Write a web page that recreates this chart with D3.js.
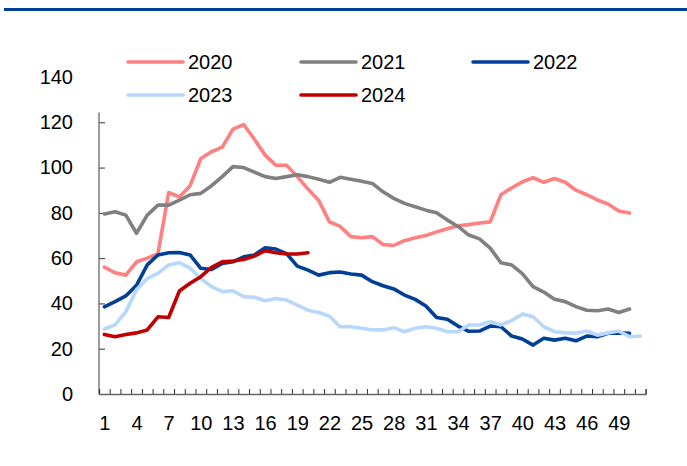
<!DOCTYPE html>
<html>
<head>
<meta charset="utf-8">
<script src="https://cdn.jsdelivr.net/npm/d3@7"></script>
<style>
  body { margin: 0; background: #fff; }
  svg text { font-family: "Liberation Sans", Arial, sans-serif; }
</style>
</head>
<body>
<div id="chart"></div>
<script>
// weekly values, week 1..n
var years = ['2020', '2021', '2022', '2023', '2024'];
var colors = ['#ff8080', '#808080', '#003f98', '#b7d7fd', '#c00000'];

var s2020 = [56, 53.5, 52.5, 58.4, 60, 62, 89, 87, 92, 104, 107, 109, 117, 119, 112.5, 105.5, 101, 101, 96, 90.5,
  85.5, 76, 74, 69.5, 69, 69.5, 66, 65.6, 67.7, 69, 70, 71.6, 73, 74.3, 74.8, 75.5, 76, 88, 91, 93.7,
  95.5, 93.5, 95.2, 93.5, 90, 88, 85.7, 83.9, 80.8, 79.9];
var s2021 = [79.5, 80.5, 79, 71, 79, 83.4, 83.4, 85.6, 88, 88.6, 92, 96, 100.4, 100, 98, 96, 95.2, 96, 96.8, 96,
  94.8, 93.5, 95.7, 94.8, 94, 93, 89.3, 86.4, 84.2, 82.7, 81.2, 80, 76.8, 74, 70.2, 68.5, 64.4, 58, 57, 53.2,
  47.4, 45, 41.8, 40.8, 38.6, 37, 36.8, 37.5, 36, 37.5];
var s2022 = [38.5, 40.8, 43.3, 48, 57, 61.4, 62.4, 62.5, 61.4, 55.5, 55, 57.7, 58.4, 60.6, 61.4, 64.6, 64, 62, 56.5, 54.7,
  52.5, 53.6, 53.9, 53, 52.5, 49.6, 47.8, 46.4, 43.7, 41.8, 38.9, 33.8, 33, 30, 27.7, 27.8, 30, 29.7, 25.6, 24.3,
  21.6, 24.6, 23.8, 24.6, 23.5, 25.6, 25.3, 26.8, 27, 26.8];
var s2023 = [28.7, 30.5, 36.3, 46, 51, 53.3, 57, 58, 55.6, 51, 47.4, 45.2, 45.6, 43, 42.7, 41.2, 42.2, 41.5, 39.3, 37,
  36, 34.4, 29.7, 29.7, 29, 28.3, 28.3, 29.3, 27.5, 29, 29.7, 29, 27.5, 27.5, 30.5, 30.5, 31.9, 30.5, 32.4, 35.3,
  34.1, 29.7, 27.5, 27, 26.8, 27.8, 26, 27, 27.8, 25.3, 25.6];
var s2024 = [26.3, 25.3, 26.3, 27, 28.3, 34.1, 33.8, 45.5, 48.9, 51.8, 55.9, 58.4, 58.7, 59.4, 60.9, 63.3, 62.4, 61.8, 61.8, 62.4];

var series = [s2020, s2021, s2022, s2023, s2024];
var nWeeks = 51;
var xLabels = d3.range(1, 50, 3);
var yTicks = [0, 20, 40, 60, 80, 100, 120, 140];

var width = 687, height = 466;
var svg = d3.select('#chart').append('svg')
  .attr('width', width)
  .attr('height', height);

// top rule
svg.append('rect')
  .attr('x', 4).attr('y', 8)
  .attr('width', width - 4).attr('height', 3)
  .attr('fill', '#00409a');

var x = d3.scaleLinear().domain([0.5, nWeeks + 0.5]).range([99, 645.6]);
var y = d3.scaleLinear().domain([0, 140]).range([394, 77]);

// y axis
var yAxis = svg.append('g')
  .attr('transform', 'translate(' + x(0.5) + ',0)')
  .call(d3.axisLeft(y).tickValues(yTicks).tickSize(-6).tickPadding(26).tickFormat(d3.format('d')));
yAxis.select('.domain').remove();
yAxis.selectAll('.tick line').attr('stroke', '#333').filter(function (d) { return d === 140; }).remove();
yAxis.selectAll('.tick text').attr('font-size', 20).attr('fill', '#000').attr('font-family', null);
yAxis.append('line')
  .attr('x1', 0).attr('x2', 0)
  .attr('y1', y(0)).attr('y2', y(124.3))
  .attr('stroke', '#666').attr('stroke-width', 1.3);

// x axis: boundary ticks, then labels
var xAxis = svg.append('g')
  .attr('transform', 'translate(0,' + y(0) + ')')
  .call(d3.axisBottom(x).tickValues(d3.range(0.5, nWeeks + 1, 1)).tickSize(-5).tickFormat(''));
xAxis.select('.domain').attr('stroke', '#666').attr('stroke-width', 1.3);
xAxis.selectAll('.tick line').attr('stroke', '#333');

var xLab = svg.append('g')
  .attr('transform', 'translate(0,' + y(0) + ')')
  .call(d3.axisBottom(x).tickValues(xLabels).tickSize(0).tickPadding(22).tickFormat(d3.format('d')));
xLab.select('.domain').remove();
xLab.selectAll('.tick text').attr('font-size', 20).attr('fill', '#000').attr('font-family', null);

// lines
var line = d3.line()
  .x(function (d, i) { return x(i + 1); })
  .y(function (d) { return y(d); });

svg.append('g').selectAll('path')
  .data(series)
  .join('path')
  .attr('d', line)
  .attr('fill', 'none')
  .attr('stroke', function (d, i) { return colors[i]; })
  .attr('stroke-width', 3.6)
  .attr('stroke-linejoin', 'round')
  .attr('stroke-linecap', 'round');

// legend
var legendPos = [[128, 62], [301, 62], [473, 62], [128, 95], [301, 95]];
var legend = svg.append('g').selectAll('g')
  .data(years)
  .join('g')
  .attr('transform', function (d, i) { return 'translate(' + legendPos[i][0] + ',' + legendPos[i][1] + ')'; });

legend.append('line')
  .attr('x1', 0).attr('x2', 55)
  .attr('stroke', function (d, i) { return colors[i]; })
  .attr('stroke-width', 3.6)
  .attr('stroke-linecap', 'round');

legend.append('text')
  .attr('x', 60)
  .attr('dy', '0.35em')
  .attr('font-size', 20)
  .text(function (d) { return d; });
</script>
</body>
</html>
